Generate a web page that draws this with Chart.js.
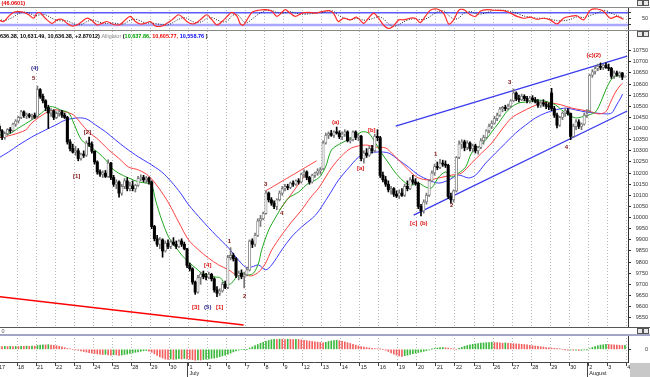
<!DOCTYPE html>
<html><head><meta charset="utf-8">
<script src="https://cdn.jsdelivr.net/npm/chart.js@4.4.1/dist/chart.umd.min.js"></script>
<style>
html,body{margin:0;padding:0;background:#fff;}
#wrap{position:relative;width:650px;height:377px;overflow:hidden;background:#fff;}
canvas{position:absolute;left:0;}
.hl{position:absolute;left:0;width:650px;height:1px;background:#8a8a8a;}
.btn{position:absolute;width:4px;height:4px;border:1px solid #555;background:#e8e8e8;}
</style></head><body>
<div id="wrap">
<canvas id="cTop" width="650" height="31" style="top:0"></canvas>
<canvas id="cMain" width="650" height="297" style="top:31px"></canvas>
<canvas id="cBot" width="650" height="49" style="top:328px"></canvas>
<div class="hl" style="top:7px"></div>
<div class="hl" style="top:30px"></div>
<div class="hl" style="top:327px;background:#555"></div>
<div class="hl" style="top:334px;height:2px;background:#a4a4c4"></div>
<div class="btn" style="left:637px;top:0px"></div><div class="btn" style="left:643px;top:0px"></div>
<div class="btn" style="left:637px;top:31px"></div><div class="btn" style="left:643px;top:31px"></div>
<div class="btn" style="left:637px;top:328px"></div><div class="btn" style="left:643px;top:328px"></div>
<div style="position:absolute;left:630px;top:363px;width:20px;height:14px;background:#c8c8c8"></div>
</div>
<script>
// ---------- DATA ----------
const dayLabels = ['17','18','21','22','23','24','25','28','29','30','1','2','6','7','8','9','12','13','14','15','16','19','20','21','22','23','26','27','28','29','30','2','3','4'];
const monthNames = {10:'July', 31:'August'};
const BARS_PER_DAY = 7;
const priceTicks = [9550,9600,9650,9700,9750,9800,9850,9900,9950,10000,10050,10100,10150,10200,10250,10300,10350,10400,10450,10500,10550,10600,10650,10700,10750];

const opens = [10410,10390,10360,10378,10395,10390,10420, 10434,10450,10475,10458,10462,10455,10460, 10455,10575,10545,10525,10495,10470,10480, 10450,10468,10475,10460,10450,10340,10310, 10294,10300,10265,10285,10280,10335,10330, 10298,10250,10205,10195,10200,10185,10245, 10180,10150,10160,10110,10140,10165,10130, 10143,10130,10145,10175,10180,10170,10178, 10160,9960,9905,9880,9900,9850,9885, 9870,9890,9880,9870,9895,9880,9860, 9785,9770,9710,9665,9730,9745,9735, 9732,9745,9725,9675,9660,9670,9700, 9686,9820,9830,9815,9740,9750,9735, 9743,9765,9895,9880,9920,9985,9995, 10018,10110,10080,10065,10050,10080,10110, 10130,10140,10135,10155,10150,10165,10160, 10195,10205,10180,10160,10190,10200,10210, 10220,10335,10370,10378,10370,10385,10380, 10363,10375,10385,10345,10350,10385,10360, 10366,10265,10290,10280,10310,10300,10365, 10359,10190,10170,10150,10125,10130,10105, 10097,10110,10100,10140,10130,10170,10160, 10154,10050,10030,10070,10100,10165,10200, 10229,10225,10245,10240,10235,10095,10080, 10120,10270,10330,10340,10315,10335,10310, 10322,10300,10315,10345,10360,10390,10410, 10424,10445,10460,10488,10495,10490,10500, 10525,10560,10535,10530,10545,10535,10525, 10537,10530,10520,10505,10515,10510,10500, 10560,10490,10460,10415,10450,10470,10480, 10468,10365,10410,10430,10410,10420,10460, 10480,10640,10655,10670,10680,10675,10685, 10674,10670,10635,10650,10640,10650,10632];
const highs = [10420,10395,10385,10400,10405,10425,10440, 10455,10482,10480,10470,10468,10465,10470, 10591,10580,10555,10530,10505,10490,10485, 10475,10485,10482,10470,10455,10350,10330, 10320,10310,10290,10300,10345,10362,10340, 10300,10255,10215,10210,10212,10260,10248, 10190,10170,10165,10150,10175,10180,10160, 10165,10150,10185,10192,10190,10185,10182, 10165,9965,9920,9910,9905,9895,9900, 9900,9910,9895,9900,9905,9890,9862, 9795,9775,9715,9740,9755,9760,9750, 9755,9750,9730,9690,9680,9710,9715, 9830,9865,9840,9820,9760,9765,9755, 9775,9900,9905,9930,9995,10010,10025, 10120,10115,10090,10075,10085,10120,10140, 10150,10150,10160,10165,10170,10175,10200, 10215,10210,10185,10195,10205,10220,10225, 10345,10380,10385,10392,10390,10407,10390, 10385,10395,10390,10360,10390,10390,10375, 10370,10300,10310,10320,10325,10375,10395, 10365,10205,10185,10165,10140,10135,10120, 10125,10130,10150,10165,10180,10190,10175, 10160,10060,10080,10110,10170,10210,10240, 10250,10262,10258,10255,10240,10110,10125, 10275,10345,10350,10348,10345,10340,10330, 10330,10320,10355,10370,10395,10420,10435, 10455,10470,10495,10500,10505,10510,10530, 10578,10565,10550,10555,10552,10545,10545, 10548,10540,10530,10525,10530,10520,10515, 10581,10500,10470,10455,10475,10490,10490, 10470,10420,10440,10440,10425,10470,10485, 10645,10665,10680,10690,10695,10690,10695, 10690,10675,10660,10658,10655,10652,10636.38];
const lows = [10380,10350,10352,10370,10380,10385,10410, 10425,10445,10450,10445,10448,10440,10445, 10450,10535,10515,10480,10400,10455,10440, 10445,10455,10450,10445,10330,10300,10290, 10280,10255,10258,10270,10275,10320,10290, 10240,10195,10185,10180,10180,10180,10170, 10140,10130,10092,10100,10130,10120,10120, 10120,10115,10140,10165,10160,10155,10150, 9950,9895,9870,9860,9822,9845,9860, 9860,9875,9860,9865,9870,9855,9775, 9760,9700,9655,9660,9700,9725,9720, 9725,9715,9665,9645,9650,9665,9680, 9680,9810,9805,9730,9720,9725,9684, 9738,9760,9865,9870,9915,9960,9990, 10015,10070,10055,10040,10035,10075,10100, 10120,10125,10130,10140,10145,10150,10155, 10180,10170,10150,10155,10180,10190,10195, 10215,10330,10355,10365,10360,10375,10355, 10350,10365,10340,10335,10345,10350,10345, 10255,10245,10270,10275,10290,10295,10345, 10180,10160,10140,10115,10105,10095,10090, 10085,10095,10095,10120,10125,10150,10145, 10040,10008,10020,10060,10095,10160,10190, 10215,10220,10230,10225,10085,10065,10070, 10115,10265,10310,10300,10305,10300,10295, 10290,10285,10310,10330,10355,10380,10400, 10420,10435,10455,10475,10480,10485,10495, 10520,10525,10520,10525,10525,10515,10515, 10520,10515,10495,10495,10500,10490,10485, 10480,10450,10403,10410,10440,10455,10460, 10350,10360,10395,10400,10395,10415,10450, 10475,10630,10645,10660,10665,10665,10670, 10660,10625,10625,10635,10630,10620,10631.49];
const closes = [10390,10360,10378,10395,10390,10420,10434, 10450,10475,10458,10462,10455,10460,10450, 10575,10545,10525,10495,10470,10480,10450, 10468,10475,10460,10450,10340,10310,10294, 10300,10265,10285,10280,10335,10330,10298, 10250,10205,10195,10200,10185,10245,10180, 10150,10160,10110,10140,10165,10130,10143, 10130,10145,10175,10180,10170,10178,10160, 9960,9905,9880,9900,9850,9885,9870, 9890,9880,9870,9895,9880,9860,9785, 9770,9710,9665,9730,9745,9735,9732, 9745,9725,9675,9660,9670,9700,9686, 9820,9830,9815,9740,9750,9735,9743, 9765,9895,9880,9920,9985,9995,10018, 10110,10080,10065,10050,10080,10110,10130, 10140,10135,10155,10150,10165,10160,10195, 10205,10180,10160,10190,10200,10210,10216, 10335,10370,10378,10370,10385,10380,10363, 10375,10385,10345,10350,10385,10360,10366, 10265,10290,10280,10310,10300,10365,10359, 10190,10170,10150,10125,10130,10105,10097, 10110,10100,10140,10130,10170,10160,10154, 10050,10030,10070,10100,10165,10200,10229, 10225,10245,10240,10235,10095,10080,10120, 10270,10330,10340,10315,10335,10310,10322, 10300,10315,10345,10360,10390,10410,10424, 10445,10460,10488,10495,10490,10500,10525, 10560,10535,10530,10545,10535,10525,10537, 10530,10520,10505,10515,10510,10500,10497, 10490,10460,10415,10450,10470,10480,10468, 10365,10410,10430,10410,10420,10460,10466, 10640,10655,10670,10680,10675,10685,10674, 10670,10635,10650,10640,10650,10631,10636.38];

// Alligator lines (bar position, value)
const lipsAt = [0.2,3.9,7.6,12.4,16.0,18.6,20.5,23.0,26.0,27.8,30.7,34.1,37.0,39.6,41.8,44.3,48.0,51.7,54.6,56.5,57.9,60.2,62.7,65.3,67.5,70.1,72.7,74.9,77.4,80.0,81.8,83.7,85.9,87.7,89.6,92.1,94.0,95.8,96.9,99.5,102.1,104.3,106.8,110.5,114.2,117.9,120.4,122.6,126.3,130.0,133.7,136.2,138.8,141.0,143.6,146.2,149.9,152.1,154.6,157.2,159.4,162.0,164.6,166.8,169.3,171.9,174.1,176.7,179.3,181.5,184.0,186.6,188.8,191.4,193.9,198.7,202.4,205.0,207.2,209.8,212.3,214.5,217.1,219.7,221.9,223.7,225.6,227.4,229.6];
const lips = [10371,10375,10403,10439,10470,10497,10497,10484,10470,10425,10349,10317,10290,10259,10223,10200,10178,10160,10155,10146,10079,9989,9913,9868,9832,9800,9773,9751,9742,9733,9729,9697,9706,9733,9751,9742,9751,9796,9854,9944,10002,10047,10088,10115,10155,10178,10227,10304,10335,10358,10385,10380,10335,10290,10245,10200,10155,10146,10155,10137,10133,10182,10205,10182,10200,10227,10290,10317,10349,10385,10425,10470,10497,10515,10519,10528,10519,10506,10484,10461,10448,10452,10461,10475,10528,10582,10623,10636,10638];
const teethAt = [0.2,5.0,10.2,12.4,17.5,21.2,24.9,27.8,30.4,33.3,37.0,40.7,44.3,48.0,51.7,55.4,59.1,62.7,66.4,70.1,73.8,77.4,81.1,84.8,87.7,91.0,93.2,95.8,98.4,100.6,104.3,107.9,111.6,114.9,117.9,122.6,126.3,130.0,135.1,138.8,142.5,144.7,148.4,152.1,154.6,158.3,162.0,166.8,170.4,174.1,177.8,181.5,185.1,188.8,192.5,196.2,199.8,203.5,207.2,210.9,214.5,218.2,220.8,223.4,225.2,227.0,228.9,229.6];
const teeth = [10358,10371,10394,10425,10470,10484,10475,10461,10425,10385,10349,10304,10268,10227,10214,10187,10133,10066,9980,9899,9854,9818,9787,9765,9742,9742,9738,9755,9796,9854,9922,9980,10034,10090,10133,10223,10277,10313,10326,10317,10313,10290,10245,10200,10178,10169,10178,10191,10200,10245,10290,10335,10394,10448,10475,10497,10515,10515,10506,10492,10484,10475,10466,10475,10519,10564,10596,10604];
const jawAt = [0.2,3.9,7.6,12.4,17.5,21.2,24.9,29.6,32.6,35.9,39.6,43.2,46.9,51.7,55.4,60.2,63.8,67.1,70.1,74.9,80.0,84.8,88.4,91.0,93.2,95.8,98.4,100.6,104.3,107.9,111.6,116.8,121.5,125.2,128.9,132.6,136.2,139.9,143.6,147.3,150.9,154.6,158.3,162.0,165.7,169.3,173.0,175.6,179.3,182.9,186.6,190.3,194.0,197.6,201.3,205.0,208.7,212.3,216.0,219.7,223.4,225.6,227.4,228.9,229.6];
const jaw = [10268,10295,10326,10362,10394,10416,10439,10448,10443,10416,10385,10349,10313,10272,10245,10205,10160,10110,10057,9989,9922,9863,9809,9778,9778,9787,9765,9787,9854,9913,9958,10012,10097,10169,10223,10272,10290,10295,10290,10259,10227,10191,10169,10155,10169,10191,10178,10191,10245,10290,10335,10380,10416,10448,10470,10484,10492,10484,10475,10470,10466,10470,10506,10537,10555];

// Trend lines: [bar position, value] pairs
const channelUpper = [[146.2,10411],[231.3,10726]];
const channelLower = [[152.8,10011],[231.3,10479]];
const redLong = [[0,9645],[90.3,9517]];
const redShortA = [[98.4,10120],[117.1,10255]];
const redShortB = [[103.5,10034],[113.8,10205]];

// Wave labels (text, bar position, value, kind)
const waveLabels = [
 ['(4)',13.5,10672,'navy'],['5',13.1,10627,'maroon'],['[2]',32.9,10385,'maroon'],['[1]',28.9,10187,'maroon'],
 ['[3]',72.7,9598,'red'],['(5)',77.1,9598,'navy'],['[1]',81.5,9598,'red'],['[4]',77.1,9787,'red'],
 ['1',85.1,9895,'maroon'],['2',90.7,9648,'maroon'],['3',98.4,10151,'maroon'],['4',104.3,10021,'maroon'],
 ['(a)',124.1,10430,'red'],['[a]',133.3,10223,'red'],['[b]',137.4,10394,'red'],['[c]',152.8,9975,'red'],['(b)',156.5,9975,'red'],
 ['1',160.9,10286,'maroon'],['2',166.8,10057,'maroon'],['3',188.1,10609,'maroon'],['4',209.0,10317,'maroon'],['(c)(2)',219.0,10731,'red']
];

// Oscillator (top panel)
const stochAt = [0.2,2.1,3.9,5.75,7.6,9.4,11.3,13.1,14.3,15.6,17.4,19.8,21.7,23.5,25.4,27.2,29.0,30.9,32.7,34.5,36.4,38.2,40.1,41.9,43.7,45.0,46.8,48.6,50.5,52.3,54.1,56.0,57.8,60.3,62.1,63.9,66.4,68.2,69.4,71.3,73.1,75.0,76.8,78.7,80.5,83.0,84.8,86.0,87.9,89.1,90.3,91.5,93.4,95.8,98.3,100.7,102.5,104.4,105.6,107.4,109.3,111.7,114.2,116.6,119.6,
 121.5,123.3,125.1,127.0,129.5,131.9,134.4,136.2,138.1,139.9,141.7,143.6,145.4,147.3,149.1,151.5,153.4,155.2,157.1,158.9,161.4,163.8,165.7,167.5,169.4,171.2,173.6,175.5,177.3,179.8,182.2,185.9,188.4,190.8,193.3,195.7,198.1,200.6,203.0,205.5,207.9,210.4,212.8,215.3,217.7,220.2,222.6,225.1,227.5,229.9];
const stochK = [45,37,62,82,85,82,70,53,78,78,53,28,45,48,28,15,20,37,53,42,20,28,37,25,20,23,45,62,37,25,28,37,15,15,28,45,70,53,37,25,32,53,70,45,20,45,70,82,62,25,20,45,82,92,95,87,62,82,95,78,62,78,82,78,87,
 90,78,37,53,45,58,28,53,78,53,20,3,15,45,45,53,53,32,62,92,98,78,25,45,92,95,70,62,87,95,92,90,78,62,53,58,48,53,45,25,53,62,65,45,92,98,87,53,62,48];
const stochD = [48,42,48,60,76,83,79,68,67,70,70,53,42,40,40,30,21,24,37,44,38,30,28,30,27,23,29,43,48,41,30,30,27,22,19,29,48,56,53,38,31,37,52,56,45,35,45,66,71,56,36,30,49,73,90,91,81,77,80,85,78,73,74,79,82,
 90,87,68,56,45,52,44,46,53,61,50,25,13,21,35,48,50,46,49,62,84,89,67,49,54,77,86,76,73,81,91,92,86,77,64,58,53,53,49,41,41,47,60,57,67,78,92,79,67,54];
const stochLevels = [20,80];

// Histogram (bottom panel)
const hist = [30,28,30,27,29,26,28, 27,30,29,32,30,33,31, 38,42,45,44,46,43, 40,36,30,24,16,8, 3,0,-4,
 -10,-16,-22,-28,-33,-38,-42,-46,-48, -52,-50,-55,-58,-54,-56,-60,-57,-52,-48, -42,-36,-30,-25,-20,-15,-12,
 -18,-30,-45,-60,-75,-88,-98, -100,-96,-102,-98,-94,-97,-92,-95, -100,-104,-110,-106,-108,-102,-98,
 -96,-90,-88,-80,-74,-66,-58,-48,-38,-26, -16,-8,-4,-2,0, 12,24,36,48,60,70,80,
 88,95,100,98,102,100,97,101,99,96,100,98, 94,90,86,82,78,75,72,68,64, 70,78,84,88,90,
 86,80,74,66,58,50,42,34, 28,22,18,14,10,7,4,2,0, -10,-22,-35,-48,-58,-66,-70,
 -64,-58,-50,-44,-38,-32,-26,-20, -14,-6,2,8,12,16,18,15,12,8, 3,0,
 10,20,30,38,44,50,54,58,62,64,66,68,70, 68,66,64,62,64,60,58,56,54,52,50,48,
 44,40,36,32,30,26,22,18,14,12,10,8, 4,0,-4,-8,-6,-10,-8,-12,-10,-6,-4, 6,18,28,36,42,46,50, 48,46,44,42,40,38,40];

// ---------- CHARTS ----------
const FONT = "'Liberation Sans', Arial, sans-serif";
Chart.defaults.font.family = FONT;
Chart.defaults.font.size = 5.5;
const X_MIN = 0.735, X_MAX = 231.6;
const pts = (xs, ys) => xs.map((x,i)=>({x, y: ys[i]}));
const seg = a => a.map(p=>({x:p[0], y:p[1]}));

function xScale(show){
  return {
    type:'linear', min:X_MIN, max:X_MAX, offset:false,
    afterBuildTicks: s => { s.ticks = dayLabels.map((_,d)=>({value:d*BARS_PER_DAY})); },
    afterFit: s => { s.height = show ? 15 : 0; },
    grid:{display:true, offset:false, drawOnChartArea:true, drawTicks:show, tickLength:4, color:'#b8b8b8', tickColor:'#444', lineWidth:1},
    border:{display:false, dash:[1,2]},
    ticks:{display:show, autoSkip:false, maxRotation:0, minRotation:0, align:'start', labelOffset:1, padding:-2, color:'#222', font:{size:5.5, lineHeight:1.15},
      callback:(v)=>{ const d=Math.round(v/BARS_PER_DAY); const l=dayLabels[d]; return monthNames[d]?[l,monthNames[d]]:l; }}
  };
}
function yScale(min,max,ticks,labelFn){
  return {
    type:'linear', position:'right', min, max,
    afterBuildTicks: s => { s.ticks = ticks.map(v=>({value:v})); },
    afterFit: s => { s.width = 20; s.paddingTop = 0; s.paddingBottom = 0; },
    grid:{drawOnChartArea:false, drawTicks:true, tickLength:3, tickColor:'#333'},
    border:{display:true, color:'#333'},
    ticks:{crossAlign:'far', padding:1, color:'#333', font:{size:5.5}, callback:labelFn}
  };
}
function baseOpts(padTop, showX, y){
  return {responsive:false, animation:false, devicePixelRatio:1,
    layout:{padding:{top:padTop, bottom:0, left:0, right:2}},
    plugins:{legend:{display:false}, tooltip:{enabled:false}},
    scales:{x:xScale(showX), y}};
}

// Top oscillator
new Chart(document.getElementById('cTop'), {
  type:'line',
  data:{datasets:[
    {data:pts(stochAt, stochK), borderColor:'#ff2a2a', borderWidth:1.2, pointRadius:0, tension:0.3},
    {data:pts(stochAt, stochD), borderColor:'#222', borderWidth:1, borderDash:[1,1.5], pointRadius:0, tension:0.3},
    {data:[{x:X_MIN,y:stochLevels[1]},{x:X_MAX,y:stochLevels[1]}], borderColor:'#5c5cff', borderWidth:1.5, pointRadius:0},
    {data:[{x:X_MIN,y:stochLevels[0]},{x:X_MAX,y:stochLevels[0]}], borderColor:'#a8a8ff', borderWidth:2.5, pointRadius:0}
  ]},
  options: baseOpts(7, false, yScale(-9.3, 107.8, [20,50,80], v=> v===50?'50':'')),
  plugins:[{id:'ttl', afterDraw(c){ const ctx=c.ctx; ctx.save(); ctx.font="bold 5.5px "+FONT; ctx.fillStyle='#e00000'; ctx.textBaseline='middle'; ctx.fillText('(46.0601)',1.5,3.5); ctx.restore(); }}]
});

// Main price chart
const up = closes.map((c,i)=>c>=opens[i]);
const mainDatasets = [
  {type:'bar', data:closes.map((c,i)=>({x:i+0.5, y:[opens[i], c]})), grouped:false, barThickness:2.4, minBarLength:1,
   backgroundColor:up.map(u=>u?'#ffffff':'#000000'), borderColor:up.map(u=>u?'#777777':'#000000'), borderWidth:up.map(u=>u?0.8:0), borderSkipped:false},
  {type:'bar', data:closes.map((c,i)=>({x:i+0.5, y:[lows[i], highs[i]]})), grouped:false, barThickness:1,
   backgroundColor:up.map(u=>u?'#777777':'#000000')},
  {type:'line', data:pts(lipsAt, lips), borderColor:'#1fa81f', borderWidth:1, pointRadius:0, tension:0.3},
  {type:'line', data:pts(teethAt, teeth), borderColor:'#ff4040', borderWidth:1, pointRadius:0, tension:0.3},
  {type:'line', data:pts(jawAt, jaw), borderColor:'#3a3aff', borderWidth:1, pointRadius:0, tension:0.3},
  {type:'line', data:seg(channelUpper), borderColor:'#3a3aee', borderWidth:1.3, pointRadius:0},
  {type:'line', data:seg(channelLower), borderColor:'#3a3aee', borderWidth:1.3, pointRadius:0},
  {type:'line', data:seg(redLong), borderColor:'#ff0000', borderWidth:1.6, pointRadius:0},
  {type:'line', data:seg(redShortA), borderColor:'#ff4848', borderWidth:1, pointRadius:0},
  {type:'line', data:seg(redShortB), borderColor:'#ff4848', borderWidth:1, pointRadius:0}
];
const labelColors = {navy:'#22228a', maroon:'#7a1212', red:'#e01010'};
const headerParts = [
  ['636.38, 10,631.49, 10,636.38, +2.87012)','#000',true],
  [' Alligator ','#8a8a8a',false],
  ['(','#000',true],
  ['10,637.86, ','#00a000',true],
  ['10,605.77, ','#ee0000',true],
  ['10,558.76','#0000ee',true],
  [' )','#000',true]
];
new Chart(document.getElementById('cMain'), {
  type:'bar',
  data:{datasets:mainDatasets},
  options: baseOpts(0, false, yScale(9503.8, 10838.5, priceTicks, v=>String(v))),
  plugins:[{id:'ann', afterDraw(c){
    const ctx=c.ctx, xs=c.scales.x, ys=c.scales.y;
    ctx.save();
    ctx.textAlign='center'; ctx.textBaseline='middle'; ctx.font="bold 6px "+FONT;
    waveLabels.forEach(l=>{ ctx.fillStyle=labelColors[l[3]]; ctx.fillText(l[0], xs.getPixelForValue(l[1]), ys.getPixelForValue(l[2])); });
    ctx.textAlign='left';
    let x=0;
    headerParts.forEach(p=>{ ctx.font=(p[2]?'bold ':'')+"5.5px "+FONT; ctx.fillStyle=p[1]; ctx.fillText(p[0],x,5); x+=ctx.measureText(p[0]).width; });
    ctx.restore();
  }}]
});

// Bottom histogram
new Chart(document.getElementById('cBot'), {
  type:'bar',
  data:{datasets:[{data:hist.map((v,i)=>({x:i+0.5, y:v})), barThickness:1,
    backgroundColor:hist.map((v,i)=> (i>0 && v<hist[i-1]) ? '#f26060' : '#3cb83c')}]},
  options: (()=>{ const o=baseOpts(7, true, yScale(-127, 143, [0], v=>'0')); o.scales.x.border={display:true,color:'#444',dash:[1,2]}; return o; })(),
  plugins:[{id:'bt', afterDraw(c){
    const ctx=c.ctx, xs=c.scales.x;
    ctx.save();
    ctx.font="5.5px "+FONT; ctx.fillStyle='#555'; ctx.textBaseline='middle'; ctx.fillText('0',1.5,3);
    ctx.strokeStyle='#444'; ctx.lineWidth=1;
    Object.keys(monthNames).forEach(d=>{ const px=Math.round(xs.getPixelForValue(d*BARS_PER_DAY))-0.5; ctx.beginPath(); ctx.moveTo(px,c.chartArea.bottom); ctx.lineTo(px,49); ctx.stroke(); });
    ctx.restore();
  }}]
});
</script>
</body></html>
